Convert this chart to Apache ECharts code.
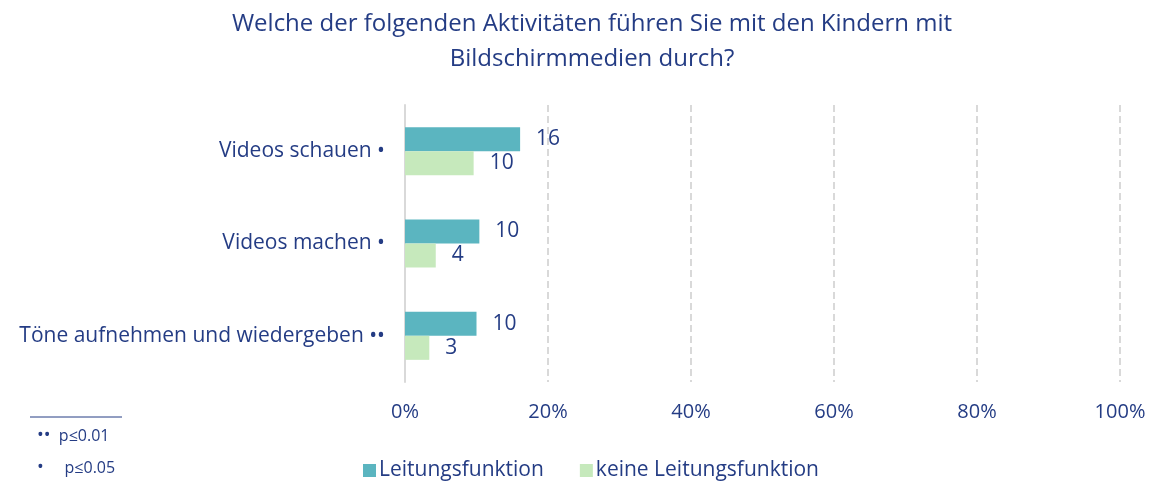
<!DOCTYPE html>
<html>
<head>
<meta charset="utf-8">
<script src="https://cdn.jsdelivr.net/npm/echarts@6/dist/echarts.min.js"></script>
<style>
  html, body { margin: 0; padding: 0; background: #fff; }
  #main { width: 1153px; height: 481px; }
</style>
</head>
<body>
<div id="main"></div>
<script>
// Daten (Anteile in %)
var categories = ['Videos schauen •', 'Videos machen •', 'Töne aufnehmen und wiedergeben ••'];
var leitung = [16.1, 10.4, 10.0];
var keineLeitung = [9.6, 4.3, 3.4];
var seriesNames = ['Leitungsfunktion', 'keine Leitungsfunktion'];
var xTicks = [0, 20, 40, 60, 80, 100];

var navy = '#243C84';
var font = 'Open Sans';

var chartObj = echarts.init(document.getElementById('main'));

var valueLabel = {
    show: true,
    position: 'right',
    distance: 16,
    color: navy,
    fontSize: 21,
    fontFamily: font,
    formatter: function (p) { return Math.round(p.value); }
};

var chartOpt = {
    animation: false,
    textStyle: { fontFamily: font, color: navy },
    title: {
        text: 'Welche der folgenden Aktivitäten führen Sie mit den Kindern mit\nBildschirmmedien durch?',
        left: 587,
        top: 2,
        textAlign: 'center',
        textStyle: { color: navy, fontSize: 24, fontWeight: 'normal', lineHeight: 35, fontFamily: font }
    },
    legend: {
        data: seriesNames,
        left: 358,
        top: 455,
        itemWidth: 13,
        itemHeight: 13,
        itemGap: 36,
        icon: 'rect',
        textStyle: { color: navy, fontSize: 21, fontFamily: font, padding: [0, 0, 0, -2] }
    },
    grid: { left: 405, right: 33, top: 105, bottom: 99, containLabel: false },
    xAxis: {
        type: 'value',
        min: 0,
        max: 100,
        interval: 20,
        axisLine: { show: false },
        axisTick: { show: false },
        axisLabel: {
            color: navy, fontSize: 20, fontFamily: font, margin: 20,
            formatter: function (v) { return xTicks.indexOf(v) >= 0 ? v + '%' : ''; }
        },
        splitLine: { show: true, lineStyle: { color: '#D9D9D9', type: [7, 4], width: 2 } }
    },
    yAxis: {
        type: 'category',
        data: categories,
        inverse: true,
        axisLine: { show: true, lineStyle: { color: '#D9D9D9', width: 2 } },
        axisTick: { show: false },
        axisLabel: { color: navy, fontSize: 21, fontFamily: font, margin: 20 }
    },
    series: [
        {
            name: seriesNames[0],
            type: 'bar',
            data: leitung,
            barWidth: 24,
            barGap: '0%',
            itemStyle: { color: '#5BB5C0' },
            label: valueLabel
        },
        {
            name: seriesNames[1],
            type: 'bar',
            data: keineLeitung,
            barWidth: 24,
            barGap: '0%',
            itemStyle: { color: '#C6E9BC' },
            label: valueLabel
        }
    ],
    graphic: [
        { type: 'line', shape: { x1: 30, y1: 417, x2: 122, y2: 417 }, style: { stroke: navy, lineWidth: 1 } },
        {
            type: 'text', left: 37, top: 427,
            style: {
                text: '{b|••}  p≤0.01',
                fill: navy, fontSize: 16, fontFamily: font,
                rich: { b: { fontSize: 18, fill: navy, fontFamily: font } }
            }
        },
        {
            type: 'text', left: 37, top: 459,
            style: {
                text: '{b|•}     p≤0.05',
                fill: navy, fontSize: 16, fontFamily: font,
                rich: { b: { fontSize: 18, fill: navy, fontFamily: font } }
            }
        }
    ]
};

chartObj.setOption(chartOpt);
</script>
</body>
</html>
